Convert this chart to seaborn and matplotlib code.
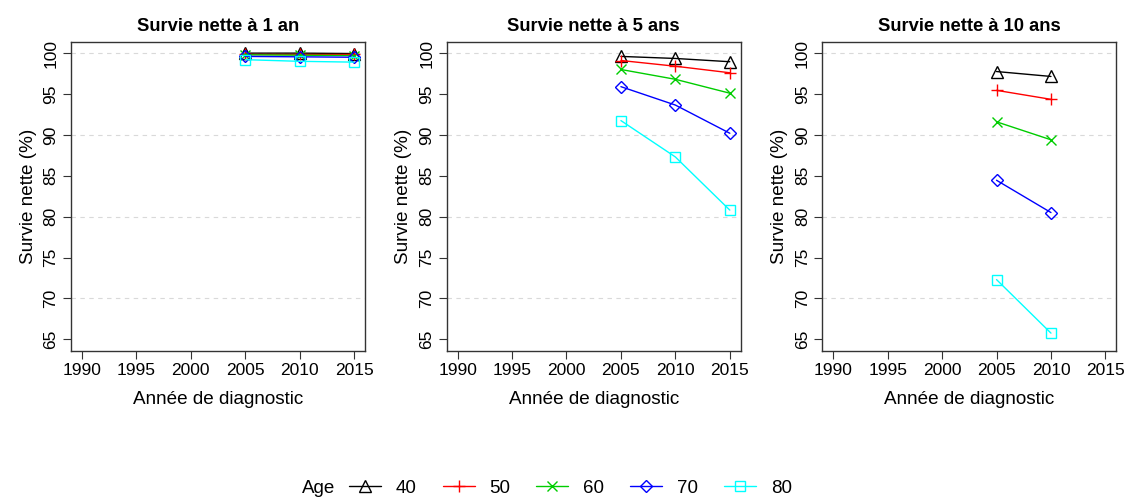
import numpy as np
import pandas as pd
import matplotlib
matplotlib.use("Agg")
import matplotlib.pyplot as plt
from matplotlib.lines import Line2D
import seaborn as sns

# ---- data ----
ages = [40, 50, 60, 70, 80]
colors = ["#000000", "#FF0000", "#00CD00", "#0000FF", "#00FFFF"]
markers = ["^", "+", "x", "D", "s"]
msizes = [8.5, 9, 7, 6, 6.5]

years_1 = [2005, 2010, 2015]
surv_1 = {40: [100.0, 100.0, 99.95], 50: [99.9, 99.9, 99.9], 60: [99.8, 99.75, 99.7],
          70: [99.6, 99.55, 99.5], 80: [99.2, 99.0, 98.9]}
years_5 = [2005, 2010, 2015]
surv_5 = {40: [99.6, 99.35, 98.95], 50: [99.1, 98.4, 97.6], 60: [98.0, 96.8, 95.1],
          70: [95.9, 93.65, 90.2], 80: [91.75, 87.3, 80.8]}
years_10 = [2005, 2010]
surv_10 = {40: [97.75, 97.15], 50: [95.45, 94.35], 60: [91.6, 89.4],
           70: [84.45, 80.5], 80: [72.3, 65.75]}

titles = ["Survie nette à 1 an", "Survie nette à 5 ans", "Survie nette à 10 ans"]
xticks = [1990, 1995, 2000, 2005, 2010, 2015]
yticks = [65, 70, 75, 80, 85, 90, 95, 100]
grid_y = [70, 80, 90, 100]

panels = [(years_1, surv_1), (years_5, surv_5), (years_10, surv_10)]

sns.set_style("white")
plt.rcParams["font.family"] = ["Liberation Sans", "DejaVu Sans"]
plt.rcParams["text.color"] = "black"
plt.rcParams["axes.labelcolor"] = "black"
plt.rcParams["xtick.color"] = "black"
plt.rcParams["ytick.color"] = "black"

fig = plt.figure(figsize=(11.27, 4.98), dpi=100)
W, H = 1127, 498
axw, axh = 294 / W, (350.7 - 41.7) / H
bottom = 1 - 350.7 / H
lefts = [71 / W, 446.7 / W, 822.3 / W]

for i, (years, surv) in enumerate(panels):
    ax = fig.add_axes([lefts[i], bottom, axw, axh])
    for g in grid_y:
        ax.axhline(g, color="#d9d9d9", lw=0.8, ls=(0, (4, 4)), zorder=0)
    for a, c, m, ms in zip(ages, colors, markers, msizes):
        df = pd.DataFrame({"year": years, "surv": surv[a]})
        sns.lineplot(data=df, x="year", y="surv", ax=ax, color=c, marker=m,
                     markersize=ms, markeredgecolor=c, markerfacecolor="none",
                     markeredgewidth=1.0, lw=1.0, errorbar=None)
    ax.set_xlim(1989, 2016)
    ax.set_ylim(63.6, 101.4)
    ax.set_xticks(xticks)
    ax.set_yticks(yticks)
    ax.set_yticklabels([str(v) for v in yticks], rotation=90, va="center")
    ax.tick_params(axis="both", direction="out", length=6, width=0.8,
                   color="#333333", labelcolor="black", labelsize=12.5, pad=3,
                   bottom=True, left=True)
    for s in ax.spines.values():
        s.set_color("#333333")
        s.set_linewidth(1.0)
    ax.set_title(titles[i], fontsize=13.2, fontweight="bold", pad=8, color="black")
    ax.set_xlabel("Année de diagnostic", fontsize=13.6, labelpad=9)
    ax.set_ylabel("Survie nette (%)", fontsize=13.6, labelpad=5)

handles = [Line2D([0], [0], color=c, marker=m, markersize=ms, markerfacecolor="none",
                  markeredgecolor=c, lw=1.0) for c, m, ms in zip(colors, markers, msizes)]
fig.text(319 / W, 1 - 488 / H, "Age", fontsize=13.5, ha="center", va="center")
fig.legend(handles, [str(a) for a in ages], loc="center left",
           bbox_to_anchor=(349 / W, 1 - 488 / H), ncol=5, frameon=False,
           fontsize=13.5, handlelength=1.7, handletextpad=0.8, columnspacing=1.38,
           borderpad=0, borderaxespad=0)

fig.savefig("out.png", dpi=100)
